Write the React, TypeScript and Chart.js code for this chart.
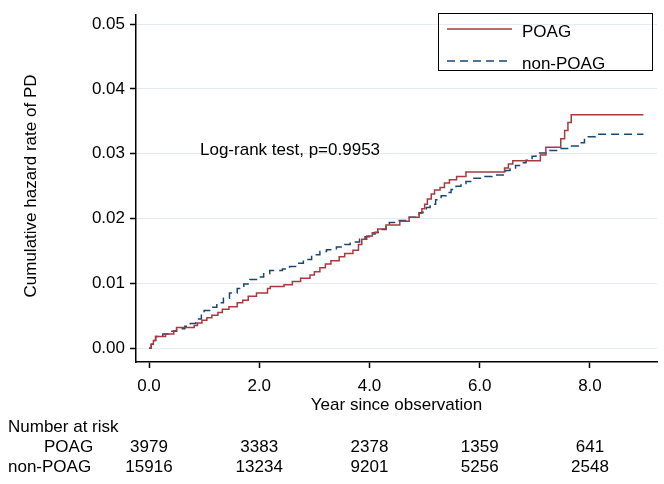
import React, { useEffect, useRef } from "react";
import { Chart, registerables } from "chart.js";

Chart.register(...registerables);

// ---- data ----
const poagTimes = [0, 0.04, 0.08, 0.12, 0.3, 0.45, 0.5, 0.82, 0.88, 0.96, 1.05, 1.14, 1.25, 1.33, 1.45, 1.6, 1.7, 1.8, 1.95, 2.15, 2.2, 2.45, 2.6, 2.75, 2.92, 3.0, 3.1, 3.2, 3.3, 3.45, 3.55, 3.7, 3.8, 3.86, 3.95, 4.05, 4.15, 4.3, 4.55, 4.72, 4.9, 4.95, 5.0, 5.05, 5.12, 5.18, 5.28, 5.36, 5.45, 5.58, 5.75, 6.45, 6.52, 6.6, 7.1, 7.2, 7.47, 7.54, 7.6, 7.66, 8.97];
const poagHazard = [0, 0.0006, 0.0012, 0.0018, 0.0022, 0.0027, 0.0032, 0.0035, 0.0039, 0.0043, 0.0047, 0.0051, 0.0055, 0.006, 0.0064, 0.007, 0.0074, 0.008, 0.0085, 0.0092, 0.0095, 0.0098, 0.0103, 0.0108, 0.0113, 0.0118, 0.0124, 0.013, 0.0135, 0.0141, 0.0146, 0.0151, 0.016, 0.0168, 0.0173, 0.0178, 0.0184, 0.019, 0.0196, 0.0202, 0.0208, 0.0215, 0.0222, 0.023, 0.0238, 0.0244, 0.0248, 0.0255, 0.026, 0.0265, 0.0272, 0.0278, 0.0284, 0.0289, 0.0298, 0.031, 0.0323, 0.0336, 0.0348, 0.036, 0.036];

const nonPoagTimes = [0, 0.04, 0.08, 0.12, 0.25, 0.4, 0.5, 0.65, 0.75, 0.85, 0.95, 1.0, 1.12, 1.23, 1.35, 1.46, 1.6, 1.72, 1.83, 1.95, 2.08, 2.19, 2.42, 2.55, 2.68, 2.8, 2.95, 3.1, 3.22, 3.4, 3.55, 3.65, 3.82, 3.92, 4.0, 4.1, 4.18, 4.3, 4.36, 4.54, 4.72, 4.9, 4.97, 5.03, 5.1, 5.2, 5.3, 5.39, 5.48, 5.57, 5.66, 5.75, 5.86, 6.05, 6.22, 6.47, 6.55, 6.65, 6.75, 6.84, 6.95, 7.02, 7.2, 7.43, 7.61, 7.79, 7.9, 7.97, 8.1, 8.97];
const nonPoagHazard = [0, 0.0006, 0.0012, 0.0018, 0.0022, 0.0026, 0.003, 0.0034, 0.0038, 0.0045, 0.0053, 0.0058, 0.0063, 0.007, 0.0077, 0.0085, 0.0092, 0.0099, 0.0106, 0.011, 0.0115, 0.012, 0.0122, 0.0126, 0.0131, 0.0137, 0.0144, 0.0149, 0.0152, 0.0156, 0.016, 0.0164, 0.0168, 0.0172, 0.0176, 0.0179, 0.0183, 0.0189, 0.0194, 0.0197, 0.0202, 0.0209, 0.0213, 0.0217, 0.0222, 0.0229, 0.0235, 0.024, 0.0245, 0.025, 0.0254, 0.0257, 0.0262, 0.0265, 0.0267, 0.0274, 0.0278, 0.0282, 0.0286, 0.029, 0.0296, 0.0301, 0.0305, 0.0308, 0.0312, 0.0317, 0.0322, 0.0326, 0.033, 0.033];

const seriesLabels = ["POAG", "non-POAG"];
const xTickValues = [0, 2, 4, 6, 8];
const yTickValues = [0, 0.01, 0.02, 0.03, 0.04, 0.05];
const riskTimes = [0, 2, 4, 6, 8];
const riskPOAG = [3979, 3383, 2378, 1359, 641];
const riskNonPOAG = [15916, 13234, 9201, 5256, 2548];
const riskHeader = "Number at risk";
const xTitle = "Year since observation";
const yTitle = "Cumulative hazard rate of PD";
const annotationText = "Log-rank test, p=0.9953";

// ---- styles ----
const FONT = "'Liberation Sans', Arial, sans-serif";
const RED = "#a83a3f";
const BLUE = "#1a476f";
const DASH = [8, 5];

const overlayPlugin = {
  id: "overlay",
  afterDraw(chart: any) {
    const ctx = chart.ctx as CanvasRenderingContext2D;
    const xs = chart.scales.x;
    ctx.save();
    ctx.fillStyle = "#000";
    ctx.font = `17px ${FONT}`;
    ctx.textBaseline = "middle";

    // y title
    ctx.save();
    ctx.translate(31, 186);
    ctx.rotate(-Math.PI / 2);
    ctx.textAlign = "center";
    ctx.fillText(yTitle, 0, 0);
    ctx.restore();

    // x title
    ctx.textAlign = "center";
    ctx.fillText(xTitle, (chart.chartArea.left + chart.chartArea.right) / 2, 405);

    // annotation
    ctx.textAlign = "left";
    ctx.fillText(annotationText, 200, 150);

    // legend
    ctx.lineWidth = 1;
    ctx.strokeStyle = "#000";
    ctx.strokeRect(438.5, 13.5, 214, 57);
    ctx.lineWidth = 1.5;
    ctx.strokeStyle = RED;
    ctx.setLineDash([]);
    ctx.beginPath();
    ctx.moveTo(447, 29);
    ctx.lineTo(512, 29);
    ctx.stroke();
    ctx.strokeStyle = BLUE;
    ctx.setLineDash(DASH);
    ctx.beginPath();
    ctx.moveTo(447, 61);
    ctx.lineTo(512, 61);
    ctx.stroke();
    ctx.setLineDash([]);
    ctx.fillText(seriesLabels[0], 522, 32);
    ctx.fillText(seriesLabels[1], 522, 64);

    // number at risk
    ctx.textAlign = "left";
    ctx.fillText(riskHeader, 8, 427);
    ctx.fillText(seriesLabels[0], 44, 447);
    ctx.fillText(seriesLabels[1], 8, 467);
    ctx.textAlign = "center";
    riskTimes.forEach((t, i) => {
      const px = xs.getPixelForValue(t);
      ctx.fillText(String(riskPOAG[i]), px, 447);
      ctx.fillText(String(riskNonPOAG[i]), px, 467);
    });
    ctx.restore();
  },
};

export default function App() {
  const ref = useRef<HTMLCanvasElement | null>(null);

  useEffect(() => {
    if (!ref.current) return;
    Chart.defaults.font.family = FONT;
    const chart = new Chart(ref.current, {
      type: "line",
      data: {
        datasets: [
          {
            label: seriesLabels[0],
            data: poagTimes.map((t, i) => ({ x: t, y: poagHazard[i] })),
            borderColor: RED,
            borderWidth: 1.5,
            pointRadius: 0,
            stepped: true,
            fill: false,
          },
          {
            label: seriesLabels[1],
            data: nonPoagTimes.map((t, i) => ({ x: t, y: nonPoagHazard[i] })),
            borderColor: BLUE,
            borderWidth: 1.5,
            borderDash: DASH,
            pointRadius: 0,
            stepped: true,
            fill: false,
          },
        ],
      },
      options: {
        animation: false,
        responsive: false,
        maintainAspectRatio: false,
        layout: { padding: { left: 0, top: 10, right: 7, bottom: 0 } },
        plugins: {
          legend: { display: false },
          tooltip: { enabled: false },
        },
        scales: {
          x: {
            type: "linear",
            min: -0.236,
            max: 9.216,
            afterFit: (s: any) => {
              s.height = 122;
            },
            afterBuildTicks: (s: any) => {
              s.ticks = xTickValues.map((v) => ({ value: v }));
            },
            grid: {
              drawOnChartArea: false,
              drawTicks: true,
              tickLength: 6,
              tickColor: "#000",
              tickWidth: 1.5,
            },
            border: { display: true, color: "#000", width: 1.5 },
            ticks: {
              color: "#000",
              font: { size: 17, family: FONT },
              padding: 8,
              maxRotation: 0,
              autoSkip: false,
              callback: (v: any) => Number(v).toFixed(1),
            },
          },
          y: {
            type: "linear",
            min: -0.00213,
            max: 0.05137,
            afterFit: (s: any) => {
              s.width = 136;
            },
            afterBuildTicks: (s: any) => {
              s.ticks = yTickValues.map((v) => ({ value: v }));
            },
            grid: {
              color: "#e2ebee",
              lineWidth: 1,
              drawTicks: true,
              tickLength: 6,
              tickColor: "#000",
              tickWidth: 1.5,
            },
            border: { display: true, color: "#000", width: 1.5 },
            ticks: {
              color: "#000",
              font: { size: 17, family: FONT },
              padding: 5,
              autoSkip: false,
              callback: (v: any) => Number(v).toFixed(2),
            },
          },
        },
      },
      plugins: [overlayPlugin],
    });
    return () => chart.destroy();
  }, []);

  return (
    <div style={{ position: "absolute", left: 0, top: 0, width: 664, height: 484, background: "#fff" }}>
      <canvas ref={ref} width={664} height={484} style={{ width: 664, height: 484, display: "block" }} />
    </div>
  );
}
